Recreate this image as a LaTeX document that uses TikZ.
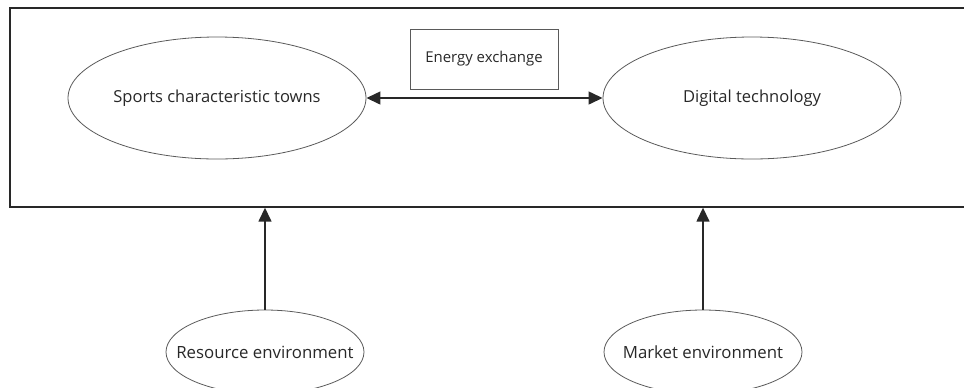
\documentclass[tikz,border=0pt]{standalone}
\usepackage{fontspec}
\setmainfont{Open Sans}
\usepackage{xcolor}
\usetikzlibrary{shapes,arrows.meta,positioning,calc}
\definecolor{inkgray}{RGB}{40,40,40}
\definecolor{linegray}{RGB}{90,90,90}

\tikzset{
  bigoval/.style={ellipse,draw=linegray,line width=0.6pt,inner sep=-40pt,
    minimum width=223.5pt,minimum height=91.5pt,text=inkgray,font=\fontsize{12.4}{14}\selectfont},
  smalloval/.style={ellipse,draw=linegray,line width=0.6pt,inner sep=-40pt,
    minimum width=148.5pt,minimum height=63pt,text=inkgray,font=\fontsize{12.6}{14}\selectfont},
  labelbox/.style={rectangle,draw=linegray,line width=0.6pt,inner sep=0pt,
    minimum width=111pt,minimum height=45pt,text=inkgray,font=\fontsize{11.2}{13}\selectfont},
  arr/.style={-{Triangle[length=10.5pt,width=9.5pt]},draw=inkgray,line width=1.7pt},
  dblarr/.style={{Triangle[length=10.5pt,width=9.5pt]}-{Triangle[length=10.5pt,width=9.5pt]},draw=inkgray,line width=1.7pt}
}

\begin{document}
\begin{tikzpicture}[x=0.75pt,y=-0.75pt]
  \useasboundingbox (0,0) rectangle (964,387);

  % Outer frame
  \node[rectangle,draw=inkgray,line width=0.9pt,minimum width=723.75pt,minimum height=149.25pt,inner sep=0pt]
    (frame) at (492.5,107.5) {};

  % Upper pair
  \node[bigoval] (sports) at (217,98) {Sports characteristic towns};
  \node[bigoval] (digital) at (752,98) {Digital technology};
  \node[labelbox] (energy) at (484,59) {Energy exchange};
  \draw[dblarr] (sports.east) -- (digital.west);

  % Environments
  \node[smalloval] (resource) at (265,352) {Resource environment};
  \node[smalloval] (market) at (703,352) {Market environment};
  \draw[arr] (resource.north) -- (resource.north |- frame.south);
  \draw[arr] (market.north) -- (market.north |- frame.south);

\end{tikzpicture}
\end{document}
